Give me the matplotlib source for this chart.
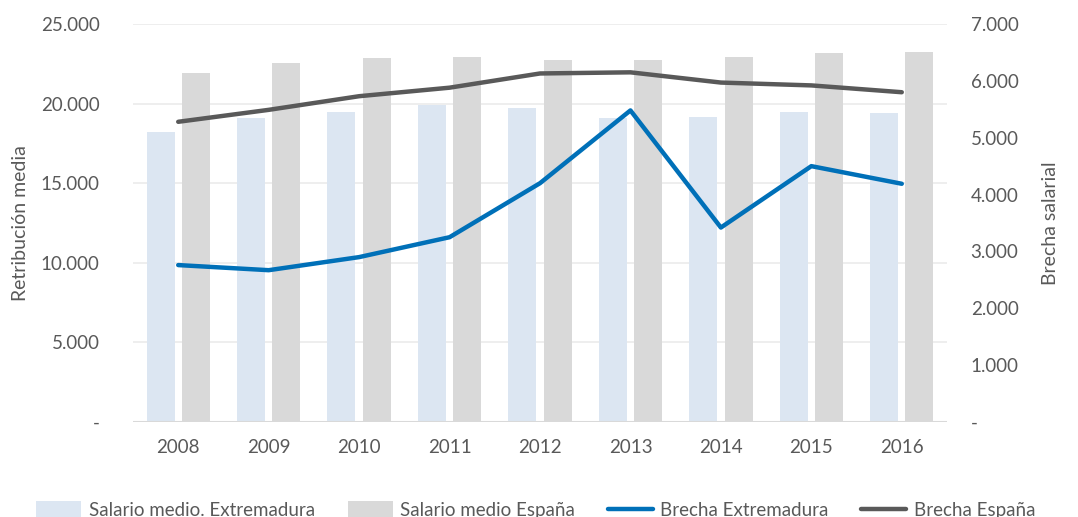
import matplotlib
matplotlib.use("Agg")
import matplotlib.pyplot as plt
import numpy as np
from matplotlib.ticker import FuncFormatter

years = ["2008", "2009", "2010", "2011", "2012", "2013", "2014", "2015", "2016"]
salario_extremadura = [18200, 19100, 19450, 19900, 19700, 19100, 19150, 19500, 19400]
salario_espana = [21900, 22550, 22850, 22950, 22750, 22750, 22900, 23150, 23250]
brecha_extremadura = [2760, 2670, 2900, 3250, 4200, 5480, 3420, 4500, 4190]
brecha_espana = [5280, 5490, 5730, 5880, 6130, 6150, 5970, 5920, 5800]

plt.rcParams['font.family'] = ['Lato', 'DejaVu Sans']
txt = '#595959'

fig = plt.figure(figsize=(10.78, 5.17), dpi=100)
ax = fig.add_axes([133/1078, 1-422/517, (947-133)/1078, (422-24)/517])
ax2 = ax.twinx()

x = np.arange(len(years))
w = 0.31
off = 0.195
ax.bar(x - off, salario_extremadura, w, color='#DCE6F2', label='Salario medio. Extremadura', zorder=2)
ax.bar(x + off, salario_espana, w, color='#D9D9D9', label='Salario medio España', zorder=2)
ax2.plot(x, brecha_extremadura, color='#0070B8', lw=3.2, label='Brecha Extremadura', solid_capstyle='round')
ax2.plot(x, brecha_espana, color='#595959', lw=3.2, label='Brecha España', solid_capstyle='round')

ax.set_xlim(-0.5, len(years) - 0.5)
ax.set_ylim(0, 25000)
ax2.set_ylim(0, 7000)
ax.set_yticks(np.arange(0, 25001, 5000))
ax2.set_yticks(np.arange(0, 7001, 1000))

def fmt(v, p):
    if v == 0:
        return '-'
    return f"{int(v):,}".replace(',', '.')

ax.yaxis.set_major_formatter(FuncFormatter(fmt))
ax2.yaxis.set_major_formatter(FuncFormatter(fmt))
ax.set_xticks(x)
ax.set_xticklabels(years)

ax.grid(axis='y', color='#EBEBEB', lw=1.2, zorder=0)
ax.set_axisbelow(True)
for a in (ax, ax2):
    for s in ['top', 'right', 'left', 'bottom']:
        a.spines[s].set_visible(False)
    a.tick_params(length=0, labelsize=13.5, colors=txt)
ax.axhline(0, color='#D9D9D9', lw=1.5, zorder=3)
ax.tick_params(axis='y', pad=24)
ax.tick_params(axis='x', pad=12)
ax2.tick_params(axis='y', pad=17)

ax.set_ylabel('Retribución media', fontsize=14, color=txt)
ax2.set_ylabel('Brecha salarial', fontsize=14, color=txt)
ax.yaxis.set_label_coords((29 - 133) / 814, 0.5)
ax2.yaxis.set_label_coords((1042 - 133) / 814, 0.5)

h1, l1 = ax.get_legend_handles_labels()
h2, l2 = ax2.get_legend_handles_labels()
fig.legend(h1 + h2, l1 + l2, loc='center', bbox_to_anchor=(0.497, 1 - 510/517), ncol=4,
           frameon=False, fontsize=13.5, labelcolor=txt, handlelength=2.4, handleheight=0.9,
           columnspacing=1.75, handletextpad=0.4)

fig.savefig('out.png', dpi=100)
